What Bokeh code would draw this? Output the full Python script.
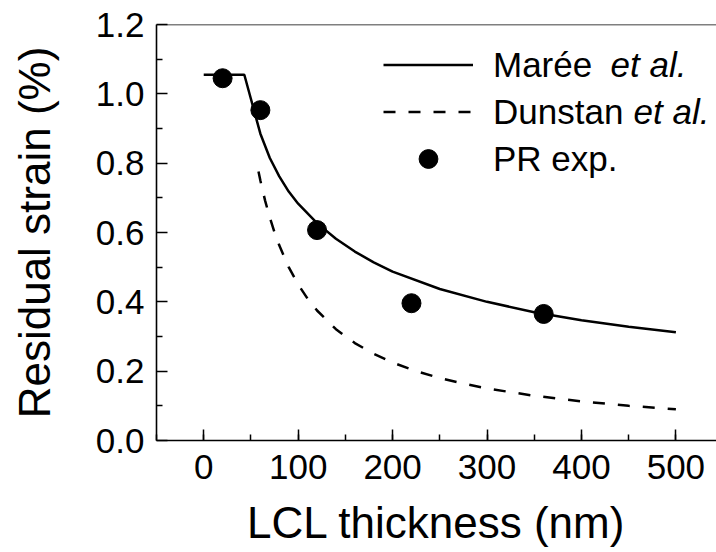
from bokeh.plotting import figure
from bokeh.models import (Range1d, LinearAxis, FixedTicker, SingleIntervalTicker,
                          PrintfTickFormatter, Legend, LegendItem, Label, Span)
from bokeh.embed import file_html
from bokeh.resources import INLINE

FONT = "Liberation Sans"

# Measured residual strain (PR experiment)
thickness_pr = [20, 60, 120, 220, 360]
strain_pr = [1.045, 0.953, 0.607, 0.396, 0.365]

# Model of Marée et al.
maree_x = [0, 43, 50, 56, 60, 70, 80, 90, 100, 120, 140, 160, 180, 200,
           250, 300, 350, 400, 450, 500]
maree_y = [1.055, 1.055, 0.985, 0.925, 0.885, 0.815, 0.762, 0.718, 0.683,
           0.627, 0.582, 0.545, 0.514, 0.487, 0.437, 0.400, 0.370, 0.347,
           0.328, 0.312]

# Model of Dunstan et al.
dunstan_x = [58, 60, 65, 70, 75, 80, 90, 100, 110, 120, 140, 160, 180, 200,
             225, 250, 275, 300, 350, 400, 450, 500]
dunstan_y = [0.776, 0.750, 0.692, 0.643, 0.600, 0.563, 0.500, 0.450, 0.409,
             0.375, 0.321, 0.281, 0.250, 0.225, 0.200, 0.180, 0.164, 0.150,
             0.129, 0.113, 0.100, 0.090]

# Strain axis ticks
y_major = [0.0, 0.2, 0.4, 0.6, 0.8, 1.0, 1.2]
y_minor = [0.1, 0.3, 0.5, 0.7, 0.9, 1.1]

p = figure(width=716, height=552, output_backend="svg", toolbar_location=None,
           x_range=Range1d(-50, 543), y_range=Range1d(0, 1.2),
           min_border_left=156, min_border_right=0, min_border_top=24,
           min_border_bottom=112, x_axis_type=None, y_axis_type=None)
p.outline_line_color = None
p.background_fill_color = "white"
p.border_fill_color = "white"

xaxis = LinearAxis(ticker=SingleIntervalTicker(interval=100, num_minor_ticks=2),
                   axis_label="LCL thickness (nm)")
yaxis = LinearAxis(ticker=FixedTicker(ticks=y_major, minor_ticks=y_minor),
                   formatter=PrintfTickFormatter(format="%.1f"),
                   axis_label="Residual strain (%)")
for ax in (xaxis, yaxis):
    ax.axis_line_width = 1.6
    ax.axis_line_color = "black"
    ax.major_tick_line_width = 1.5
    ax.minor_tick_line_width = 1.5
    ax.major_tick_in = 11
    ax.major_tick_out = 0
    ax.minor_tick_in = 6
    ax.minor_tick_out = 0
    ax.major_label_text_font = FONT
    ax.major_label_text_font_size = "35px"
    ax.major_label_text_color = "black"
    ax.axis_label_text_font = FONT
    ax.axis_label_text_font_size = "44px"
    ax.axis_label_text_font_style = "normal"
    ax.axis_label_text_color = "black"
xaxis.major_label_standoff = 14
xaxis.axis_label_standoff = 16
yaxis.major_label_standoff = 12
yaxis.axis_label_standoff = 34
p.add_layout(xaxis, "below")
p.add_layout(yaxis, "left")

# frame line along the top edge
p.add_layout(Span(location=1.2, dimension="width", line_color="black",
                  line_width=1.5))

r_maree = p.line(maree_x, maree_y, line_color="black", line_width=2.5)
r_dunstan = p.line(dunstan_x, dunstan_y, line_color="black", line_width=2.5,
                   line_dash="12 13")
r_pr = p.scatter(thickness_pr, strain_pr, size=19, color="black")

legend = Legend(items=[LegendItem(label="Marée", renderers=[r_maree]),
                       LegendItem(label="Dunstan", renderers=[r_dunstan]),
                       LegendItem(label="PR exp.", renderers=[r_pr])],
                location=(227, 258), orientation="vertical",
                glyph_width=90, glyph_height=47, label_height=47,
                label_standoff=20, spacing=0, padding=0, margin=0,
                border_line_color=None, background_fill_alpha=0,
                label_text_font=FONT, label_text_font_size="35px",
                label_text_color="black")
p.add_layout(legend, "center")

for lx, ly in ((454, 376), (477, 329)):
    p.add_layout(Label(x=lx, y=ly, x_units="screen", y_units="screen",
                       text="et al.", text_font=FONT, text_font_size="35px",
                       text_font_style="italic", text_baseline="middle",
                       text_color="black"))

open("out.html", "w").write(file_html(p, INLINE))
